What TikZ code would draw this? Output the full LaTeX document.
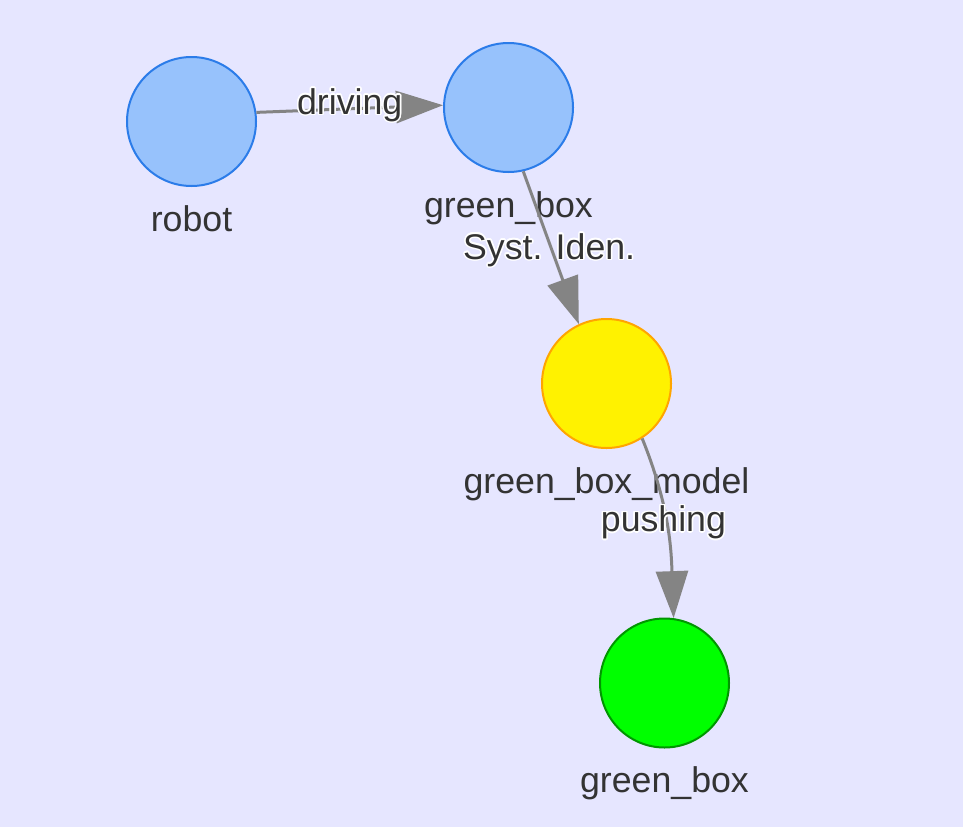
\documentclass[tikz,border=0pt]{standalone}
\usepackage{fontspec}
\setmainfont{Liberation Sans}
\usepackage{contour}
\contourlength{1.5pt}
\usetikzlibrary{arrows.meta,positioning}
\definecolor{bgcol}{RGB}{230,230,255}
\definecolor{nodeblue}{RGB}{151,194,252}
\definecolor{lineblue}{RGB}{43,124,233}
\definecolor{lineorange}{RGB}{255,165,0}
\definecolor{linegreen}{RGB}{0,150,0}
\definecolor{edgegray}{RGB}{132,132,132}
\definecolor{txt}{RGB}{51,51,51}

\begin{document}
\begin{tikzpicture}[x=1pt,y=-1pt,
    vertex/.style={circle,draw,line width=2pt,minimum size=129pt,inner sep=0pt,
        label={[text=txt,font=\fontsize{35.7}{40}\selectfont,label distance=15pt]below:#1}},
    edge/.style={draw=edgegray,line width=3pt,-{Triangle[length=47pt,width=32pt]}},
    edgelabel/.style={text=txt,font=\fontsize{35.7}{40}\selectfont,inner sep=0pt}]
            \fill[bgcol] (0,0) rectangle (963,827);
            \useasboundingbox (0,0) rectangle (963,827);
            \node[vertex=robot,fill=nodeblue,draw=lineblue] (robot) at (191.5,121.5) {};
            \node[vertex=green\_box,fill=nodeblue,draw=lineblue] (box) at (508.5,107.5) {};
            \node[vertex=green\_box\_model,fill=yellow,draw=lineorange] (model) at (606.5,383.5) {};
            \node[vertex=green\_box,fill=green,draw=linegreen] (real) at (664.5,683) {};
            \draw[edge] (robot.8) -- node[edgelabel,yshift=3pt] (lbl-drive) {\contour{white}{driving}} (box.178);
            \draw[edge] (box.-77) -- node[edgelabel,pos=0.52,xshift=-3pt] (lbl-sysid) {\contour{white}{Syst. Iden.}} (model.115);
            \draw[edge] (model.-57) to[out=-68,in=92] node[edgelabel,pos=0.48,xshift=-3pt] (lbl-push) {\contour{white}{pushing}} (real.82);
        \end{tikzpicture}
\end{document}
